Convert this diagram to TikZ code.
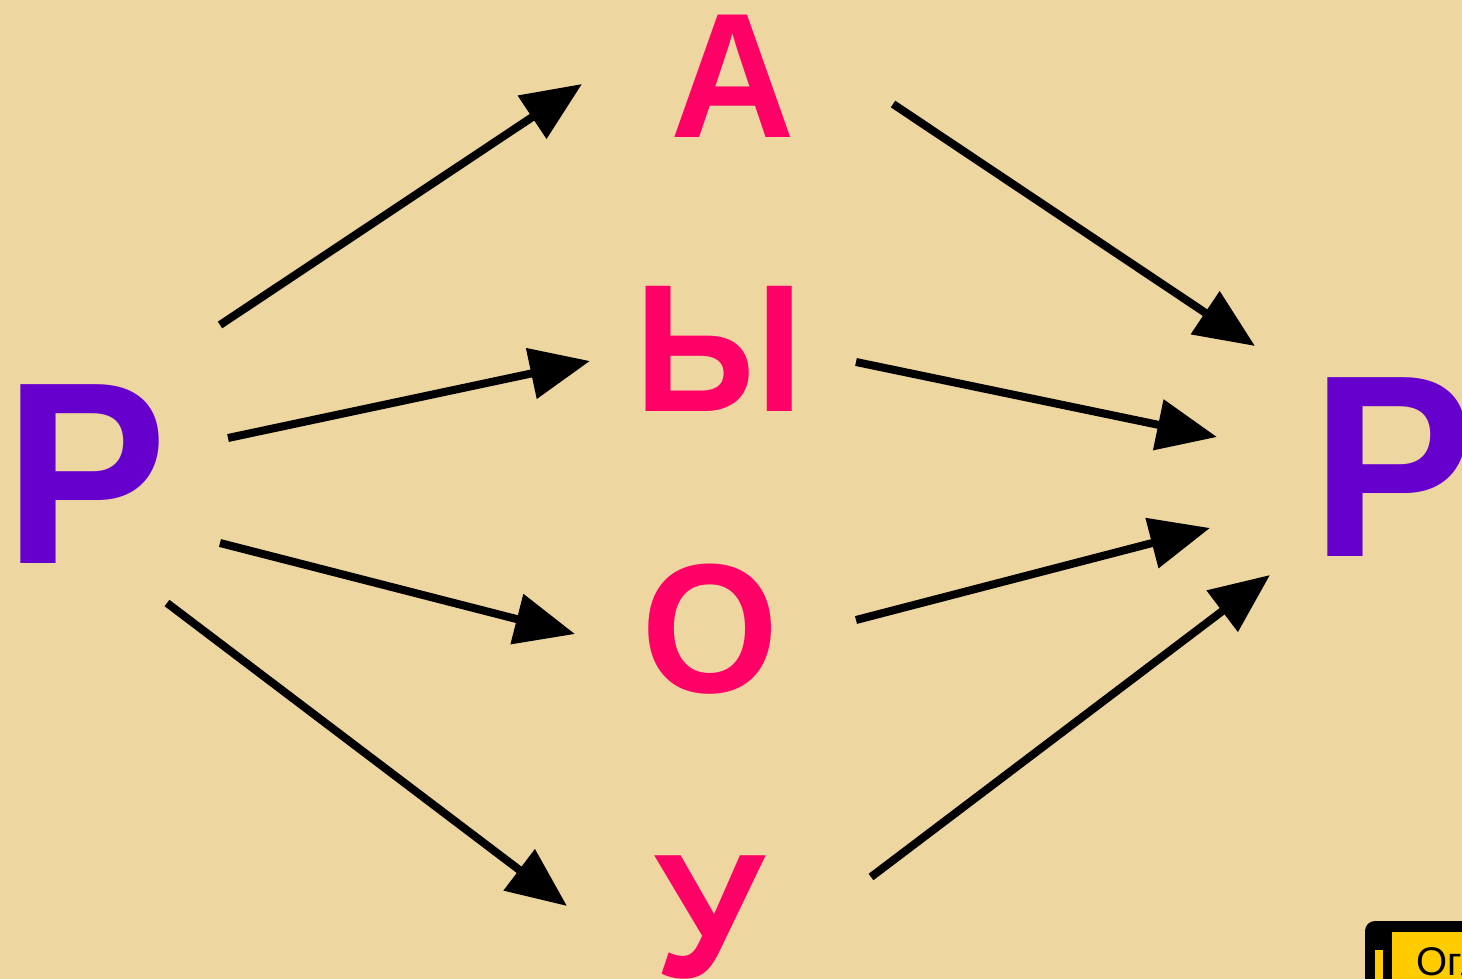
\documentclass[tikz,border=0pt]{standalone}
\usepackage{fontspec}
\setmainfont{Liberation Sans}
\usetikzlibrary{arrows.meta}
\definecolor{bg}{RGB}{238,214,160}
\definecolor{purp}{RGB}{102,0,204}
\definecolor{pinkc}{RGB}{255,0,102}
\definecolor{btn}{RGB}{255,204,0}
\tikzset{
  bigp/.style={inner sep=0pt, anchor=base, text=purp, font=\fontsize{260}{260}\bfseries\selectfont},
  vowel/.style={inner sep=0pt, anchor=base, text=pinkc, font=\fontsize{#1}{#1}\bfseries\selectfont},
  arr/.style={line width=8pt, -{Triangle[length=60pt,width=50pt]}, black}
}
\begin{document}
\begin{tikzpicture}[x=1pt,y=-1pt]
\clip (0,0) rectangle (1462,979);
\fill[bg] (0,0) rectangle (1462,979);
% letters
\node[bigp] (P1) at (86,563) {\scalebox{0.94}[1]{Р}};
\node[bigp] (P2) at (1393,556) {\scalebox{0.94}[1]{Р}};
\node[vowel=178] (A) at (733,138) {\scalebox{0.97}[1]{А}};
\node[vowel=182] (Y) at (719,411) {\scalebox{0.95}[1]{Ы}};
\node[vowel=184] (O) at (710,692) {\scalebox{0.96}[1]{О}};
\node[vowel=177] (U) at (710,977) {У};
% arrow ends
\coordinate (s1) at (220,325); \coordinate (e1) at (582,84);
\coordinate (s2) at (228,438); \coordinate (e2) at (590,361);
\coordinate (s3) at (220,543); \coordinate (e3) at (575,634);
\coordinate (s4) at (167,603); \coordinate (e4) at (567,906);
\coordinate (s5) at (893,104); \coordinate (e5) at (1255,346);
\coordinate (s6) at (856,362); \coordinate (e6) at (1217,437);
\coordinate (s7) at (856,620); \coordinate (e7) at (1210,528);
\coordinate (s8) at (871,877); \coordinate (e8) at (1270,575);
\draw[arr] (s1) -- (e1);
\draw[arr] (s2) -- (e2);
\draw[arr] (s3) -- (e3);
\draw[arr] (s4) -- (e4);
\draw[arr] (s5) -- (e5);
\draw[arr] (s6) -- (e6);
\draw[arr] (s7) -- (e7);
\draw[arr] (s8) -- (e8);
% button
\fill[black, rounded corners=10pt] (1365,921) rectangle (1500,1000);
\fill[btn] (1392,932) rectangle (1500,1000);
\fill[btn] (1375,950) rectangle (1383,1000);
\node[inner sep=0pt, anchor=base west, font=\fontsize{40}{40}\selectfont] (btnt) at (1416,975) {Оглавление};
\end{tikzpicture}
\end{document}
